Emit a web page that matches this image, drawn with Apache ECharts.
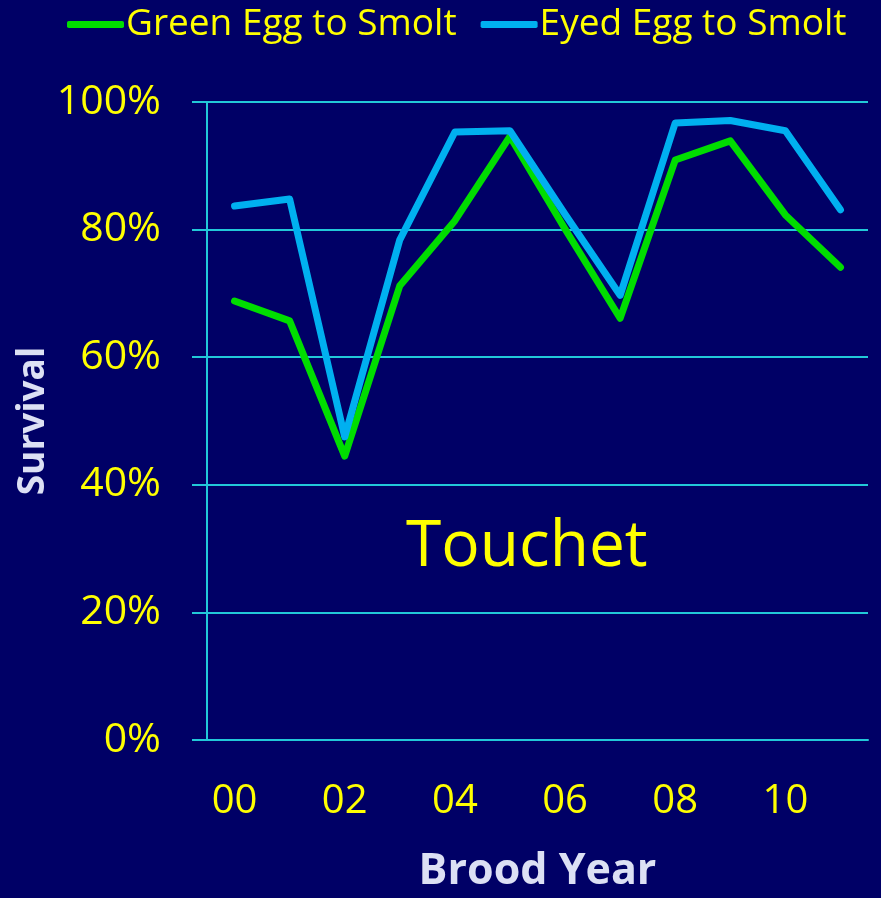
<!DOCTYPE html>
<html>
<head>
<meta charset="utf-8">
<script src="https://cdn.jsdelivr.net/npm/echarts@6/dist/echarts.min.js"></script>
<style>
  html, body { margin: 0; padding: 0; background: #000066; }
  #chart { width: 881px; height: 898px; }
</style>
</head>
<body>
<div id="chart"></div>
<script>
// brood years (two-digit)
const years = ['00', '01', '02', '03', '04', '05', '06', '07', '08', '09', '10', '11'];
// survival, percent
const greenEgg = [68.8, 65.7, 44.5, 71.2, 81.4, 94.6, 80.1, 66.1, 90.9, 93.9, 82.3, 74.1];
const eyedEgg = [83.7, 84.8, 47.5, 78.4, 95.3, 95.5, 82.4, 69.7, 96.7, 97.1, 95.5, 83.1];
const yTicks = [0, 20, 40, 60, 80, 100];

const yellow = '#FFFF00';
const gridColor = '#22C8D8';
const font = '"Open Sans", sans-serif';

const chart = echarts.init(document.getElementById('chart'));

chart.setOption({
  backgroundColor: '#000066',
  animation: false,
  textStyle: { fontFamily: font },
  title: {
    text: 'Touchet',
    left: 401,
    top: 511,
    textStyle: { color: yellow, fontSize: 64, fontWeight: 'normal', fontFamily: font }
  },
  legend: {
    left: 62,
    top: 1,
    itemWidth: 57,
    itemHeight: 7,
    itemGap: 24,
    icon: 'roundRect',
    textStyle: { color: yellow, fontSize: 37, fontFamily: font, padding: [0, 0, 0, -3] },
    data: ['Green Egg to Smolt', 'Eyed Egg to Smolt']
  },
  grid: { left: 207, right: 13, top: 102, bottom: 158 },
  xAxis: {
    type: 'category',
    data: years,
    boundaryGap: true,
    name: 'Brood Year',
    nameLocation: 'middle',
    nameGap: 110,
    nameMoveOverlap: false,
    nameTextStyle: { color: '#DCE0F4', fontSize: 43, fontWeight: 'bold', fontFamily: font },
    axisLine: { show: true, lineStyle: { color: gridColor, width: 2 } },
    axisTick: { show: false },
    axisLabel: { interval: 1, color: yellow, fontSize: 40, margin: 42, fontFamily: font }
  },
  yAxis: {
    type: 'value',
    min: yTicks[0],
    max: yTicks[yTicks.length - 1],
    interval: 20,
    name: 'Survival',
    nameLocation: 'middle',
    nameGap: 155,
    nameMoveOverlap: false,
    nameRotate: 90,
    nameTextStyle: { color: '#DCE0F4', fontSize: 37, fontWeight: 'bold', fontFamily: font },
    axisLine: { show: true, lineStyle: { color: gridColor, width: 2 } },
    axisTick: { show: true, length: 15, lineStyle: { color: gridColor, width: 2 } },
    splitLine: { show: true, lineStyle: { color: gridColor, width: 2 } },
    axisLabel: {
      color: yellow,
      fontSize: 41,
      margin: 46,
      fontFamily: font,
      formatter: v => v + '%'
    }
  },
  series: [
    {
      name: 'Green Egg to Smolt',
      type: 'line',
      data: greenEgg,
      symbol: 'none',
      color: '#00DD00',
      lineStyle: { width: 7, cap: 'round', join: 'round' }
    },
    {
      name: 'Eyed Egg to Smolt',
      type: 'line',
      data: eyedEgg,
      symbol: 'none',
      color: '#00B0F0',
      lineStyle: { width: 7, cap: 'round', join: 'round' }
    }
  ]
});
</script>
</body>
</html>
